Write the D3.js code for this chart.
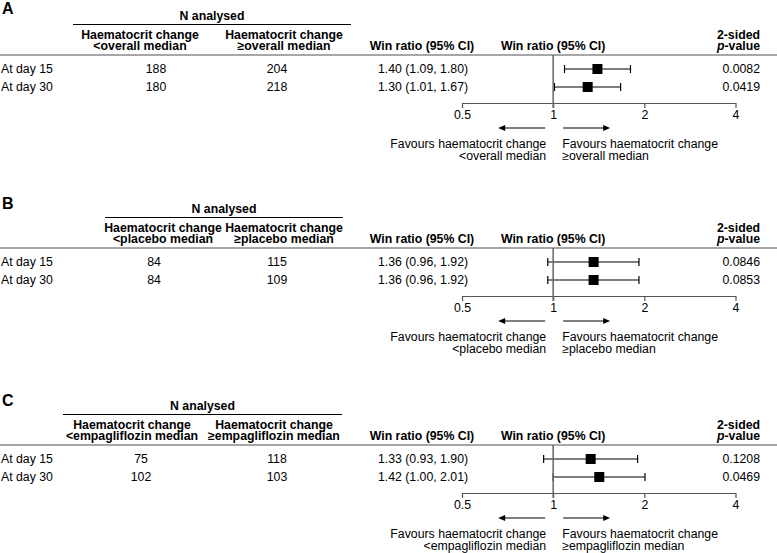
<!DOCTYPE html>
<html>
<head>
<meta charset="utf-8">
<script src="https://cdn.jsdelivr.net/npm/d3@7"></script>
<style>
  body { margin: 0; background: #fff; }
  svg { display: block; font-family: "Liberation Sans", Arial, Helvetica, sans-serif; }
  text { fill: #000; font-size: 12.3px; }
  .bold { font-weight: bold; }
  .letter { font-size: 16px; font-weight: bold; }
</style>
</head>
<body>
<svg width="777" height="553"></svg>
<script>
// values
var panelLetters = ["A", "B", "C"];
var medianNames = ["overall", "placebo", "empagliflozin"];
var rowLabels = ["At day 15", "At day 30"];
var nBelow = [[188, 180], [84, 84], [75, 102]];
var nAbove = [[204, 218], [115, 109], [118, 103]];
var winRatio = [[1.40, 1.30], [1.36, 1.36], [1.33, 1.42]];
var ciLower = [[1.09, 1.01], [0.96, 0.96], [0.93, 1.00]];
var ciUpper = [[1.80, 1.67], [1.92, 1.92], [1.90, 2.01]];
var pValues = [["0.0082", "0.0419"], ["0.0846", "0.0853"], ["0.1208", "0.0469"]];
var axisTicks = [0.5, 1, 2, 4];

// layout per panel (pixels)
var panelTop = [0, 193, 390];
var nLineSpan = [[73, 351], [105, 343], [63, 342]];
var col1Head = [140, 163, 132];
var col2Head = [284, 284, 274];
var col1Val = [156, 154, 141];
var col2Val = [277, 277, 277];

var svg = d3.select("svg");
var fmt = d3.format(".2f");

var x = d3.scaleLog().base(2).domain([0.5, 4]).range([462, 735.5]);
var y = d3.scalePoint().domain(rowLabels).range([69, 87]);

function drawPanel(i) {
  var g = svg.append("g")
    .attr("transform", "translate(0," + panelTop[i] + ")");

  g.append("text").attr("class", "letter")
    .attr("x", 2).attr("y", i == 0 ? 14 : 16)
    .text(panelLetters[i]);

  // N analysed spanner
  var span = nLineSpan[i];
  g.append("text").attr("class", "bold")
    .attr("x", (span[0] + span[1]) / 2).attr("y", 20)
    .attr("text-anchor", "middle")
    .text("N analysed");
  g.append("line")
    .attr("x1", span[0]).attr("x2", span[1])
    .attr("y1", 24.5).attr("y2", 24.5)
    .attr("stroke", "#000").attr("stroke-width", 1);

  var heads = [
    {x: col1Head[i], lines: ["Haematocrit change", "<" + medianNames[i] + " median"]},
    {x: col2Head[i], lines: ["Haematocrit change", "\u2265" + medianNames[i] + " median"]}
  ];
  heads.forEach(function(h) {
    h.lines.forEach(function(t, k) {
      g.append("text").attr("class", "bold")
        .attr("x", h.x).attr("y", 39 + k * 11)
        .attr("text-anchor", "middle")
        .text(t);
    });
  });

  g.append("text").attr("class", "bold")
    .attr("x", 422).attr("y", 50).attr("text-anchor", "middle")
    .text("Win ratio (95% CI)");
  g.append("text").attr("class", "bold")
    .attr("x", x(1)).attr("y", 50).attr("text-anchor", "middle")
    .text("Win ratio (95% CI)");

  g.append("text").attr("class", "bold")
    .attr("x", 760).attr("y", 39).attr("text-anchor", "end")
    .text("2-sided");
  var pv = g.append("text").attr("class", "bold")
    .attr("x", 760).attr("y", 50).attr("text-anchor", "end");
  pv.append("tspan").style("font-style", "italic").text("p");
  pv.append("tspan").text("-value");

  // header rule
  g.append("line")
    .attr("x1", 0).attr("x2", 777)
    .attr("y1", 55).attr("y2", 55)
    .attr("stroke", "#8a8a8a").attr("stroke-width", 1.6);

  var rows = rowLabels.map(function(lab, r) {
    return {
      label: lab,
      below: nBelow[i][r],
      above: nAbove[i][r],
      est: winRatio[i][r],
      lo: ciLower[i][r],
      hi: ciUpper[i][r],
      p: pValues[i][r]
    };
  });

  var rowG = g.selectAll(".row")
    .data(rows)
    .enter()
    .append("g")
    .attr("class", "row");

  rowG.append("text")
    .attr("x", 1).attr("y", function(d) { return y(d.label); })
    .attr("dy", "0.36em")
    .text(function(d) { return d.label; });
  rowG.append("text")
    .attr("x", col1Val[i]).attr("y", function(d) { return y(d.label); })
    .attr("dy", "0.36em").attr("text-anchor", "middle")
    .text(function(d) { return d.below; });
  rowG.append("text")
    .attr("x", col2Val[i]).attr("y", function(d) { return y(d.label); })
    .attr("dy", "0.36em").attr("text-anchor", "middle")
    .text(function(d) { return d.above; });
  rowG.append("text")
    .attr("x", 423).attr("y", function(d) { return y(d.label); })
    .attr("dy", "0.36em").attr("text-anchor", "middle")
    .text(function(d) { return fmt(d.est) + " (" + fmt(d.lo) + ", " + fmt(d.hi) + ")"; });
  rowG.append("text")
    .attr("x", 760).attr("y", function(d) { return y(d.label); })
    .attr("dy", "0.36em").attr("text-anchor", "end")
    .text(function(d) { return d.p; });

  // axis
  var axis = d3.axisBottom(x)
    .tickValues(axisTicks)
    .tickFormat(d3.format(""))
    .tickSize(5)
    .tickSizeOuter(0)
    .tickPadding(2);
  var ax = g.append("g")
    .attr("transform", "translate(0,103)")
    .call(axis);
  ax.select(".domain").attr("stroke", "#555").attr("stroke-width", 1.2);
  ax.selectAll(".tick line").attr("stroke", "#555").attr("stroke-width", 1.2);
  ax.selectAll(".tick text")
    .attr("font-size", null).attr("font-family", null)
    .style("font-size", "12.3px");
  ax.attr("font-size", null).attr("font-family", null);

  // line of no effect
  g.append("line")
    .attr("x1", x(1)).attr("x2", x(1))
    .attr("y1", 55).attr("y2", 108)
    .attr("stroke", "#666").attr("stroke-width", 1.5);

  // CIs and squares
  rowG.append("line")
    .attr("x1", function(d) { return x(d.lo); })
    .attr("x2", function(d) { return x(d.hi); })
    .attr("y1", function(d) { return y(d.label); })
    .attr("y2", function(d) { return y(d.label); })
    .attr("stroke", "#000").attr("stroke-width", 1.2);
  [["lo"], ["hi"]].forEach(function(k) {
    rowG.append("line")
      .attr("x1", function(d) { return x(d[k[0]]); })
      .attr("x2", function(d) { return x(d[k[0]]); })
      .attr("y1", function(d) { return y(d.label) - 4; })
      .attr("y2", function(d) { return y(d.label) + 4; })
      .attr("stroke", "#000").attr("stroke-width", 1.2);
  });
  rowG.append("rect")
    .attr("x", function(d) { return x(d.est) - 5; })
    .attr("y", function(d) { return y(d.label) - 5; })
    .attr("width", 10).attr("height", 10)
    .attr("fill", "#000");

  // favours arrows
  var x1 = x(1);
  g.append("line")
    .attr("x1", x1 - 8).attr("x2", x1 - 50)
    .attr("y1", 128).attr("y2", 128)
    .attr("stroke", "#000").attr("stroke-width", 1.2);
  g.append("path")
    .attr("d", "M" + (x1 - 55) + ",128 l7,-3 l0,6 z")
    .attr("fill", "#000");
  g.append("line")
    .attr("x1", x1 + 10).attr("x2", x1 + 52)
    .attr("y1", 128).attr("y2", 128)
    .attr("stroke", "#000").attr("stroke-width", 1.2);
  g.append("path")
    .attr("d", "M" + (x1 + 57) + ",128 l-7,-3 l0,6 z")
    .attr("fill", "#000");

  var leftLines = ["Favours haematocrit change", "<" + medianNames[i] + " median"];
  var rightLines = ["Favours haematocrit change", "\u2265" + medianNames[i] + " median"];
  leftLines.forEach(function(t, k) {
    g.append("text")
      .attr("x", x1 - 7).attr("y", 148 + k * 11.5)
      .attr("text-anchor", "end")
      .text(t);
  });
  rightLines.forEach(function(t, k) {
    g.append("text")
      .attr("x", x1 + 9).attr("y", 148 + k * 11.5)
      .text(t);
  });
}

panelLetters.forEach(function(d, i) { drawPanel(i); });
</script>
</body>
</html>
